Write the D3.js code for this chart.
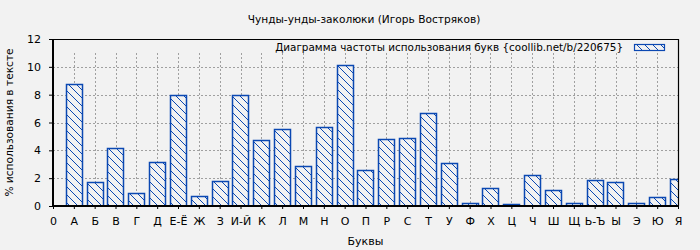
<!DOCTYPE html>
<html>
<head>
<meta charset="utf-8">
<script src="https://cdn.jsdelivr.net/npm/d3@7"></script>
<style>
  body { margin: 0; background: #f2f2f2; }
  text { font-family: "DejaVu Sans", sans-serif; fill: #000; }
</style>
</head>
<body>
<div id="chart"></div>
<script>
const title = "Чунды-унды-заколюки (Игорь Востряков)";
const legendLabel = "Диаграмма частоты использования букв {coollib.net/b/220675}";
const xLabel = "Буквы";
const yLabel = "% использования в тексте";

// tick labels along x (position 0 is the empty "0" tick)
const tickLabels = ["0", "А", "Б", "В", "Г", "Д", "Е-Ё", "Ж", "З", "И-Й", "К", "Л", "М", "Н", "О",
  "П", "Р", "С", "Т", "У", "Ф", "Х", "Ц", "Ч", "Ш", "Щ", "Ь-Ъ", "Ы", "Э", "Ю", "Я"];

const letters = tickLabels.slice(1);
const percents = [8.75, 1.70, 4.14, 0.92, 3.14, 7.96, 0.70, 1.78, 7.96, 4.72, 5.51, 2.85, 5.68, 10.12,
  2.59, 4.79, 4.86, 6.70, 3.07, 0.19, 1.29, 0.12, 2.20, 1.13, 0.19, 1.85, 1.70, 0.19, 0.65, 1.94];

const yTicks = [0, 2, 4, 6, 8, 10, 12];

const width = 700, height = 250;
const margin = { top: 39, right: 22, bottom: 44, left: 53 };
const barColor = "#0b48b2";

const svg = d3.select("#chart").append("svg")
  .attr("width", width)
  .attr("height", height);

svg.append("rect").attr("width", width).attr("height", height).attr("fill", "#f2f2f2");

const defs = svg.append("defs");
const pat = defs.append("pattern")
  .attr("id", "hatch")
  .attr("patternUnits", "userSpaceOnUse")
  .attr("width", 8)
  .attr("height", 8);
pat.append("rect").attr("width", 8).attr("height", 8).attr("fill", "#f2f2f2");
pat.append("path")
  .attr("d", "M-2,-2 L10,10 M-2,6 L2,10 M6,-2 L10,2")
  .attr("stroke", barColor)
  .attr("stroke-width", 1)
  .attr("shape-rendering", "crispEdges");

defs.append("clipPath").attr("id", "plotclip")
  .append("rect")
  .attr("x", margin.left)
  .attr("y", margin.top)
  .attr("width", width - margin.left - margin.right)
  .attr("height", height - margin.top - margin.bottom);

const x = d3.scaleLinear()
  .domain([0, tickLabels.length - 1])
  .range([margin.left, width - margin.right]);

const y = d3.scaleLinear()
  .domain([0, 12])
  .range([height - margin.bottom, margin.top]);

const step = x(1) - x(0);
const barW = step * 0.77;

// grid
const grid = svg.append("g")
  .attr("stroke", "#a0a0a0")
  .attr("stroke-dasharray", "2,2")
  .attr("shape-rendering", "crispEdges");

grid.selectAll(".vg")
  .data(d3.range(1, tickLabels.length - 1))
  .enter()
  .append("line")
  .attr("x1", (d) => Math.round(x(d)) + 0.5)
  .attr("x2", (d) => Math.round(x(d)) + 0.5)
  .attr("y1", y(11))
  .attr("y2", y(0));

grid.selectAll(".hg")
  .data(yTicks.filter((d) => d > 0 && d < 12))
  .enter()
  .append("line")
  .attr("x1", x(0))
  .attr("x2", x(30))
  .attr("y1", (d) => Math.round(y(d)) + 0.5)
  .attr("y2", (d) => Math.round(y(d)) + 0.5);

// bars
svg.append("g")
  .attr("clip-path", "url(#plotclip)")
  .selectAll("rect")
  .data(percents)
  .enter()
  .append("rect")
  .attr("x", (d, i) => Math.round(x(i + 1) - barW / 2) + 0.5)
  .attr("y", (d) => Math.round(y(d)) + 0.5)
  .attr("width", Math.round(barW))
  .attr("height", (d) => Math.round(y(0)) - Math.round(y(d)))
  .attr("fill", "url(#hatch)")
  .attr("stroke", barColor)
  .attr("stroke-width", 1.5);

// plot border (top, right)
svg.append("path")
  .attr("d", "M" + x(0) + "," + (y(12) + 0.5) + "H" + (x(30) + 0.5) + "V" + y(0))
  .attr("fill", "none")
  .attr("stroke", "#000")
  .attr("stroke-width", 1.2);

// axes
const yAxis = svg.append("g")
  .attr("transform", "translate(" + x(0) + ",0)")
  .call(d3.axisLeft(y).tickValues(yTicks).tickSize(4).tickPadding(8));
yAxis.select(".domain").attr("stroke-width", 2).attr("d", "M0," + y(12) + "V" + (y(0) + 1));

const xAxis = svg.append("g")
  .attr("transform", "translate(0," + y(0) + ")")
  .call(d3.axisBottom(x)
    .tickValues(d3.range(0, tickLabels.length))
    .tickFormat((d) => tickLabels[d])
    .tickSize(3)
    .tickPadding(8));
xAxis.select(".domain").attr("stroke-width", 2).attr("d", "M" + x(0) + ",0H" + x(30));

svg.selectAll(".tick text").style("font-size", "11px").style("font-family", "DejaVu Sans");

// title
svg.append("text")
  .attr("x", 364)
  .attr("y", 23)
  .attr("text-anchor", "middle")
  .style("font-size", "10.6px")
  .text(title);

// axis labels
svg.append("text")
  .attr("x", (x(0) + x(30)) / 2)
  .attr("y", 245)
  .attr("text-anchor", "middle")
  .style("font-size", "11px")
  .text(xLabel);

svg.append("text")
  .attr("transform", "rotate(-90)")
  .attr("x", -(y(0) + y(12)) / 2)
  .attr("y", 13)
  .attr("text-anchor", "middle")
  .style("font-size", "10.6px")
  .text(yLabel);

// legend
svg.append("text")
  .attr("x", 623)
  .attr("y", 51)
  .attr("text-anchor", "end")
  .style("font-size", "10.4px")
  .text(legendLabel);

svg.append("rect")
  .attr("x", 634.5)
  .attr("y", 44.5)
  .attr("width", 30)
  .attr("height", 6)
  .attr("fill", "url(#hatch)")
  .attr("stroke", barColor)
  .attr("stroke-width", 1.2);
</script>
</body>
</html>
